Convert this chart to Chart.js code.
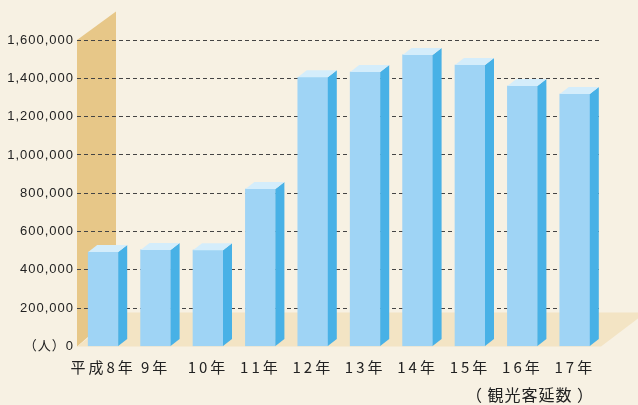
<!DOCTYPE html>
<html>
<head>
<meta charset="utf-8">
<script src="https://cdn.jsdelivr.net/npm/chart.js@4"></script>
<style>
  html, body { margin: 0; padding: 0; background: #f7f1e3; }
  canvas { display: block; }
</style>
</head>
<body>
<canvas id="chart" width="638" height="405"></canvas>
<script>
// 観光客延数（人）
const years = ['平成8年', '9年', '10年', '11年', '12年', '13年', '14年', '15年', '16年', '17年'];
const visitors = [493000, 504000, 503000, 822000, 1405000, 1433000, 1522000, 1469000, 1360000, 1318000];
const yTicks = [0, 200000, 400000, 600000, 800000, 1000000, 1200000, 1400000, 1600000];
const unitLabel = '（人）';
const seriesTitle = '（ 観光客延数 ）';

const colors = {
    bg: '#f7f1e3',
    wall: '#e7c788',
    floor: '#f3e4c4',
    front: '#9fd4f5',
    side: '#48b1e6',
    top: '#d4edfb',
    grid: '#444',
    text: '#222'
};

// fake 3d: wall, floor, bar sides/tops
const depthPlugin = {
    id: 'depth',
    beforeDraw(chart) {
        const { ctx, chartArea: a } = chart;
        ctx.save();
        ctx.fillStyle = colors.bg;
        ctx.fillRect(0, 0, chart.width, chart.height);

        // back wall on the left
        ctx.fillStyle = colors.wall;
        ctx.beginPath();
        ctx.moveTo(a.left, a.top);
        ctx.lineTo(a.left + 39, a.top - 28.5);
        ctx.lineTo(a.left + 39, a.bottom - 34);
        ctx.lineTo(a.left, a.bottom);
        ctx.closePath();
        ctx.fill();

        // floor
        ctx.fillStyle = colors.floor;
        ctx.beginPath();
        ctx.moveTo(a.left, a.bottom);
        ctx.lineTo(a.left + 45, a.bottom - 34);
        ctx.lineTo(a.right + 45, a.bottom - 34);
        ctx.lineTo(a.right, a.bottom);
        ctx.closePath();
        ctx.fill();
        ctx.restore();

        ctx.letterSpacing = '1px';

        // wider spacing for the x labels
        const xs = chart.scales.x;
        if (!xs._spaced) {
            const orig = xs.drawLabels;
            xs.drawLabels = function (area) {
                this.ctx.save();
                this.ctx.letterSpacing = '3px';
                orig.call(this, area);
                this.ctx.restore();
            };
            xs._spaced = true;
        }
    },
    afterDatasetsDraw(chart) {
        const { ctx } = chart;
        const dx = 9, dy = 7;
        ctx.save();
        chart.getDatasetMeta(0).data.forEach(bar => {
            const l = bar.x - bar.width / 2;
            const r = bar.x + bar.width / 2;
            const t = bar.y;
            const b = bar.base;

            ctx.fillStyle = colors.side;
            ctx.beginPath();
            ctx.moveTo(r, t);
            ctx.lineTo(r + dx, t - dy);
            ctx.lineTo(r + dx, b - dy);
            ctx.lineTo(r, b);
            ctx.closePath();
            ctx.fill();

            ctx.fillStyle = colors.top;
            ctx.beginPath();
            ctx.moveTo(l, t);
            ctx.lineTo(l + dx, t - dy);
            ctx.lineTo(r + dx, t - dy);
            ctx.lineTo(r, t);
            ctx.closePath();
            ctx.fill();
        });
        ctx.restore();
    },
    afterDraw(chart) {
        // series caption under the last labels
        const { ctx, chartArea: a } = chart;
        ctx.save();
        ctx.letterSpacing = '1px';
        ctx.font = '16px "Noto Sans CJK JP", sans-serif';
        ctx.fillStyle = colors.text;
        ctx.textAlign = 'center';
        ctx.textBaseline = 'middle';
        ctx.fillText(seriesTitle, a.right - 71, 395);
        ctx.restore();
    }
};

new Chart(document.getElementById('chart'), {
    type: 'bar',
    data: {
        labels: years,
        datasets: [{
            data: visitors,
            backgroundColor: colors.front,
            borderWidth: 0,
            barThickness: 30
        }]
    },
    options: {
        responsive: false,
        animation: false,
        layout: { padding: { top: 40, right: 37, left: 0, bottom: 0 } },
        plugins: {
            legend: { display: false },
            tooltip: { enabled: false }
        },
        scales: {
            x: {
                grid: { display: false, drawTicks: false },
                border: { display: false },
                ticks: {
                    color: colors.text,
                    padding: 11.5,
                    maxRotation: 0,
                    autoSkip: false,
                    font: { family: '"Noto Sans CJK JP", sans-serif', size: 15, lineHeight: 1.2 }
                },
                afterFit(scale) { scale.height = 58.5; }
            },
            y: {
                min: 0,
                max: 1600000,
                afterBuildTicks(scale) {
                    scale.ticks = yTicks.map(v => ({ value: v }));
                },
                grid: {
                    drawTicks: false,
                    lineWidth: 1,
                    color: c => (c.tick && c.tick.value === 0) ? 'rgba(0,0,0,0)' : colors.grid
                },
                border: { display: false, dash: [4, 3] },
                ticks: {
                    color: colors.text,
                    padding: 3,
                    font: { family: '"Liberation Sans", "Noto Sans CJK JP", sans-serif', size: 13 },
                    callback: v => v === 0 ? unitLabel + '0' : v.toLocaleString('en-US')
                },
                afterFit(scale) { scale.width = 77; }
            }
        }
    },
    plugins: [depthPlugin]
});
</script>
</body>
</html>
